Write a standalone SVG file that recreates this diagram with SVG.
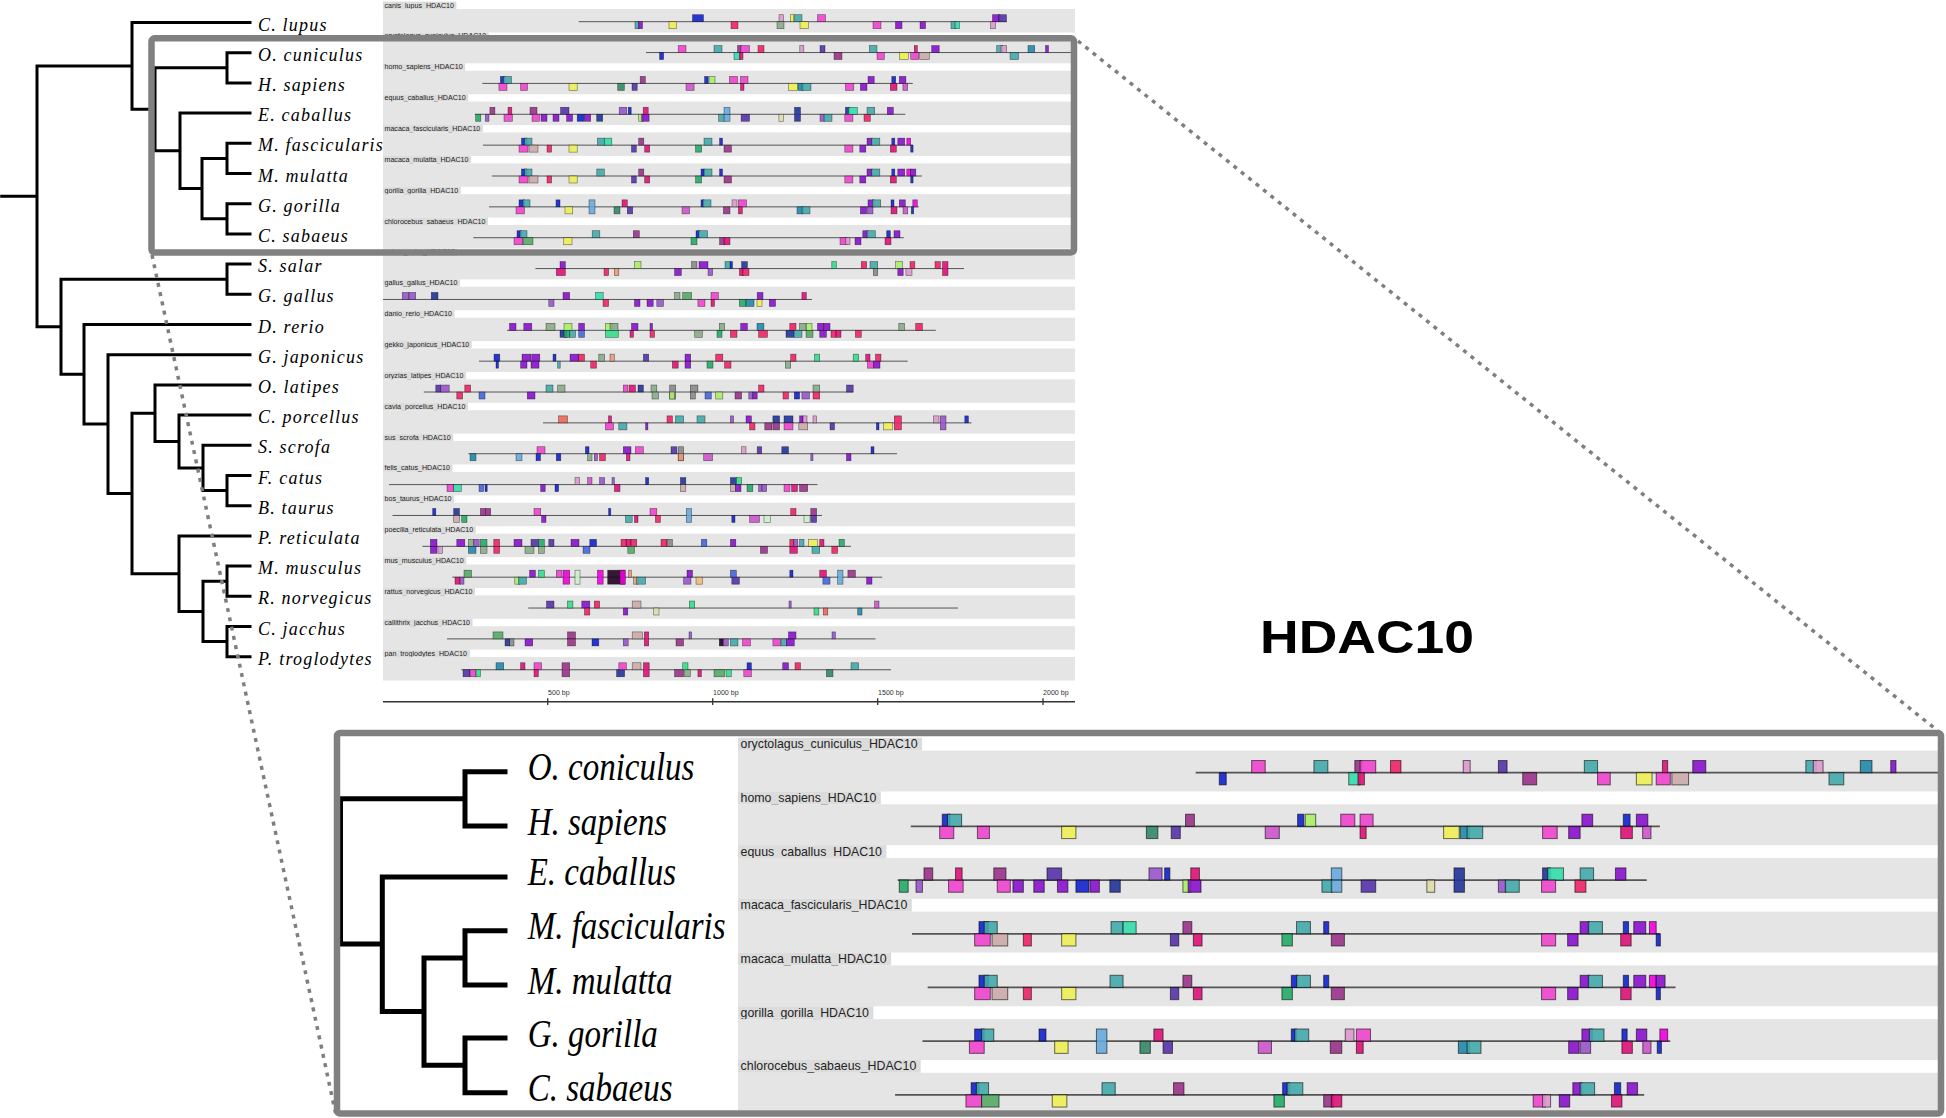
<svg xmlns="http://www.w3.org/2000/svg" xmlns:xlink="http://www.w3.org/1999/xlink" width="1946" height="1118" viewBox="0 0 1946 1118">
<style>
.lb{fill:#dcdcdc}
.bd{fill:#e5e5e5}
.lt{font-family:"Liberation Sans",Arial,sans-serif;font-size:7.1px;fill:#222}
.ln{stroke:#555;stroke-width:1;fill:none}
.tk rect{stroke:#000;stroke-opacity:.55;stroke-width:.6;fill-opacity:.9}
.sp{font-family:"Liberation Serif","Times New Roman",serif;font-style:italic;fill:#000}
.s1{font-size:18px;letter-spacing:1.2px}
.s2{font-size:40px}
.br{fill:none;stroke:#000;stroke-linecap:square}
.box{fill:none;stroke:#808080;stroke-width:6.5}
.dot{fill:none;stroke:#7f7f7f;stroke-width:3.5;stroke-dasharray:4 5.5}
.ax{font-family:"Liberation Sans",Arial,sans-serif;font-size:7.1px;fill:#333}
.pk{fill:#ee44cc}.tl{fill:#44aaaa}.pu{fill:#8811cc}.mg{fill:#dd1177}.ye{fill:#eeee55}.bl{fill:#1122cc}.nv{fill:#223399}.gr{fill:#22aa66}.rs{fill:#ccaaaa}.vi{fill:#9955cc}.mv{fill:#993388}.in{fill:#5533aa}.lb2{fill:#66aadd}.gg{fill:#88aa88}.lg{fill:#aaee66}.mi{fill:#33ddaa}.or{fill:#cc55cc}.lp{fill:#dd99cc}.gy{fill:#888888}.rd{fill:#ee2266}.be{fill:#ddddaa}.sa{fill:#ee9977}.bk{fill:#220022}.dg{fill:#338866}.tb{fill:#2288aa}.bm{fill:#ee00dd}.mb{fill:#4466dd}.g2{fill:#55aa66}.g3{fill:#33dd88}.pg{fill:#cceecc}.lo{fill:#eebb77}.sr{fill:#ee6655}
</style>
<defs>
<clipPath id="cb"><rect x="340" y="736" width="1598" height="374.5"/></clipPath>
</defs>
<rect width="1946" height="1118" fill="#fff"/>

<g id="tracks-top">
<g id="row-canis" transform="translate(0,0)">
<rect class="lb" x="383" y="1.6" width="73.4" height="7.4"/><text class="lt" x="384.5" y="7.6">canis_lupus_HDAC10</text>
<rect class="bd" x="383" y="9" width="692" height="23.5"/>
<g class="tk" transform="translate(0,21.7)"><path class="ln" d="M578.7 0H1007"/>
<rect class="tl" x="635" y="0" width="4" height="7"/><rect class="pu" x="638.5" y="0" width="4" height="7"/>
<rect class="ye" x="669" y="0" width="7.5" height="7"/>
<rect class="bl" x="692.5" y="-7" width="11" height="7"/>
<rect class="rd" x="731" y="0" width="7" height="7"/>
<rect class="lp" x="779" y="-7" width="4.5" height="7"/>
<rect class="gg" x="777" y="0" width="7" height="7"/>
<rect class="ye" x="790.5" y="-7" width="3.5" height="7"/><rect class="tl" x="794" y="-7" width="8" height="7"/>
<rect class="ye" x="800" y="0" width="8.5" height="7"/>
<rect class="pk" x="817.5" y="-7" width="8" height="7"/>
<rect class="pk" x="873" y="0" width="8" height="7"/>
<rect class="pu" x="895.5" y="0" width="6.5" height="7"/>
<rect class="pu" x="920" y="0" width="5.5" height="7"/>
<rect class="tl" x="951" y="0" width="5" height="7"/><rect class="mi" x="955" y="0" width="4.5" height="7"/>
<rect class="lp" x="990.5" y="0" width="5" height="7"/>
<rect class="pu" x="992.5" y="-7" width="7.5" height="7"/><rect class="in" x="998.5" y="-7" width="8" height="7"/>
</g></g>

<g id="r17">
<g id="row-oryctolagus" transform="translate(0,30.86)">
<rect class="lb" x="383" y="1.6" width="105.8" height="7.4"/><text class="lt" x="384.5" y="7.6">oryctolagus_cuniculus_HDAC10</text>
<rect class="bd" x="383" y="9" width="692" height="23.5"/>
<g class="tk" transform="translate(0,21.7)"><path class="ln" d="M646 0H1075"/>
<rect class="bl" x="659.6" y="0" width="4" height="7"/>
<rect class="pk" x="678.2" y="-7" width="7.8" height="7"/>
<rect class="tl" x="714" y="-7" width="8" height="7"/>
<rect class="mv" x="737.5" y="-7" width="4" height="7"/><rect class="pk" x="740.5" y="-7" width="9" height="7"/>
<rect class="mi" x="734" y="0" width="6.5" height="7"/><rect class="mg" x="739.3" y="0" width="3.7" height="7"/>
<rect class="rd" x="758" y="-7" width="6" height="7"/>
<rect class="lp" x="799.8" y="-7" width="4" height="7"/>
<rect class="in" x="820" y="-7" width="5" height="7"/>
<rect class="mv" x="834" y="0" width="8" height="7"/>
<rect class="tl" x="869.4" y="-7" width="7.6" height="7"/>
<rect class="pk" x="877" y="0" width="7.3" height="7"/>
<rect class="ye" x="899.3" y="0" width="9" height="7"/>
<rect class="pk" x="910.7" y="0" width="8.1" height="7"/><rect class="mg" x="914.3" y="-7" width="3" height="7"/>
<rect class="rs" x="919.7" y="0" width="9.6" height="7"/>
<rect class="pu" x="931.7" y="-7" width="7.5" height="7"/>
<rect class="tl" x="996.7" y="-7" width="6" height="7"/><rect class="lp" x="1001" y="-7" width="5.6" height="7"/>
<rect class="tl" x="1010" y="0" width="8.5" height="7"/>
<rect class="tb" x="1028" y="-7" width="6.7" height="7"/>
<rect class="pu" x="1045.5" y="-7" width="3" height="7"/>
</g></g>

<g id="row-homo" transform="translate(0,61.72)">
<rect class="lb" x="383" y="1.6" width="82.1" height="7.4"/><text class="lt" x="384.5" y="7.6">homo_sapiens_HDAC10</text>
<rect class="bd" x="383" y="9" width="692" height="23.5"/>
<g class="tk" transform="translate(0,21.7)"><path class="ln" d="M482.3 0H912.8"/>
<rect class="bl" x="500.4" y="-7" width="4.5" height="7"/><rect class="tl" x="503.4" y="-7" width="8.1" height="7"/>
<rect class="pk" x="498.9" y="0" width="8.1" height="7"/>
<rect class="pk" x="520.6" y="0" width="6.9" height="7"/>
<rect class="ye" x="569" y="0" width="8.2" height="7"/>
<rect class="dg" x="617.7" y="0" width="6.6" height="7"/>
<rect class="in" x="632" y="0" width="5.2" height="7"/>
<rect class="mv" x="640.2" y="-7" width="5.1" height="7"/>
<rect class="or" x="686" y="0" width="8.1" height="7"/>
<rect class="bl" x="704.6" y="-7" width="3.6" height="7"/><rect class="lg" x="709" y="-7" width="6" height="7"/>
<rect class="pk" x="729.4" y="-7" width="8.1" height="7"/>
<rect class="pk" x="740.5" y="-7" width="7.5" height="7"/><rect class="mg" x="740.5" y="0" width="3.5" height="7"/>
<rect class="ye" x="788.5" y="0" width="9" height="7"/>
<rect class="tb" x="798" y="0" width="5.4" height="7"/><rect class="tl" x="802" y="0" width="9" height="7"/>
<rect class="pk" x="845.4" y="0" width="8.4" height="7"/>
<rect class="pu" x="860.4" y="0" width="6.6" height="7"/>
<rect class="pu" x="868" y="-7" width="6.2" height="7"/>
<rect class="bl" x="891.8" y="-7" width="3.9" height="7"/>
<rect class="mg" x="890.3" y="0" width="6.7" height="7"/>
<rect class="pu" x="899.3" y="-7" width="6.6" height="7"/>
<rect class="or" x="902.9" y="0" width="4.8" height="7"/>
</g></g>

<g id="row-equus" transform="translate(0,92.58)">
<rect class="lb" x="383" y="1.6" width="85.3" height="7.4"/><text class="lt" x="384.5" y="7.6">equus_caballus_HDAC10</text>
<rect class="bd" x="383" y="9" width="692" height="23.5"/>
<g class="tk" transform="translate(0,21.7)"><path class="ln" d="M474.8 0H905.3"/>
<rect class="gr" x="475.7" y="0" width="5.1" height="7"/>
<rect class="vi" x="485.3" y="0" width="3.7" height="7"/>
<rect class="mv" x="489.9" y="-7" width="5" height="7"/>
<rect class="pk" x="504" y="0" width="8.4" height="7"/><rect class="mg" x="508" y="-7" width="3.8" height="7"/>
<rect class="mv" x="530" y="-7" width="7" height="7"/>
<rect class="pk" x="532" y="0" width="7.5" height="7"/>
<rect class="pu" x="541" y="0" width="6" height="7"/>
<rect class="pu" x="553" y="0" width="6" height="7"/>
<rect class="in" x="560.6" y="-7" width="8.4" height="7"/>
<rect class="pu" x="566.6" y="0" width="6" height="7"/>
<rect class="bl" x="577.2" y="0" width="7.5" height="7"/>
<rect class="pu" x="585.3" y="0" width="5.4" height="7"/>
<rect class="nv" x="596.7" y="0" width="6" height="7"/>
<rect class="vi" x="619.2" y="-7" width="7.5" height="7"/><rect class="bl" x="628.2" y="-7" width="3" height="7"/>
<rect class="mg" x="643.2" y="-7" width="5" height="7"/>
<rect class="lg" x="638.7" y="0" width="4.5" height="7"/><rect class="pu" x="641.7" y="0" width="7.4" height="7"/>
<rect class="lb2" x="724" y="-7" width="6" height="7"/>
<rect class="tl" x="718.6" y="0" width="6" height="7"/><rect class="lb2" x="724" y="0" width="6" height="7"/>
<rect class="in" x="741.1" y="0" width="8.4" height="7"/>
<rect class="be" x="778.9" y="0" width="4.5" height="7"/>
<rect class="nv" x="794.5" y="-7" width="6" height="14"/>
<rect class="vi" x="820" y="0" width="4.4" height="7"/><rect class="tl" x="824" y="0" width="8" height="7"/>
<rect class="nv" x="845.4" y="-7" width="4.6" height="7"/><rect class="mi" x="848.4" y="-7" width="9" height="7"/>
<rect class="pk" x="844.8" y="0" width="8.1" height="7"/>
<rect class="rd" x="864" y="0" width="6.3" height="7"/>
<rect class="tl" x="867" y="-7" width="7.7" height="7"/>
<rect class="pu" x="887.3" y="-7" width="6" height="7"/>
</g></g>

<g id="row-mfasc" transform="translate(0,123.44)">
<rect class="lb" x="383" y="1.6" width="99.9" height="7.4"/><text class="lt" x="384.5" y="7.6">macaca_fascicularis_HDAC10</text>
<rect class="bd" x="383" y="9" width="692" height="23.5"/>
<g class="tk" transform="translate(0,21.7)"><path class="ln" d="M483 0H912.8"/>
<rect class="bl" x="521.5" y="-7" width="5.5" height="7"/><rect class="tl" x="524.5" y="-7" width="7.5" height="7"/>
<rect class="pk" x="519" y="0" width="9" height="7"/>
<rect class="rs" x="529" y="0" width="9" height="7"/>
<rect class="rd" x="547" y="0" width="4.6" height="7"/>
<rect class="ye" x="569" y="0" width="8.2" height="7"/>
<rect class="tl" x="597.4" y="-7" width="6.9" height="7"/><rect class="mi" x="604.3" y="-7" width="7.5" height="7"/>
<rect class="mv" x="638.7" y="-7" width="5.1" height="7"/>
<rect class="in" x="631.5" y="0" width="4.8" height="7"/>
<rect class="mg" x="644.7" y="0" width="5" height="7"/>
<rect class="gr" x="695.6" y="0" width="6" height="7"/>
<rect class="tl" x="704" y="-7" width="8" height="7"/>
<rect class="bl" x="719.6" y="-7" width="2.9" height="7"/>
<rect class="mv" x="724" y="0" width="7.5" height="7"/>
<rect class="pk" x="844.8" y="0" width="8.1" height="7"/>
<rect class="pu" x="859.8" y="0" width="6" height="7"/>
<rect class="pu" x="867" y="-7" width="5.3" height="7"/><rect class="tl" x="871.7" y="-7" width="8.1" height="7"/>
<rect class="bl" x="891.8" y="-7" width="3" height="7"/>
<rect class="mg" x="890.3" y="0" width="6" height="7"/>
<rect class="pu" x="897.8" y="-7" width="6.9" height="7"/>
<rect class="bm" x="906.8" y="-7" width="3.9" height="7"/>
<rect class="bl" x="910.7" y="0" width="2.4" height="7"/>
</g></g>

<g id="row-mmul" transform="translate(0,154.3)">
<rect class="lb" x="383" y="1.6" width="88" height="7.4"/><text class="lt" x="384.5" y="7.6">macaca_mulatta_HDAC10</text>
<rect class="bd" x="383" y="9" width="692" height="23.5"/>
<g class="tk" transform="translate(0,21.7)"><path class="ln" d="M492 0H921.8"/>
<rect class="bl" x="521.5" y="-7" width="5.5" height="7"/><rect class="tl" x="524.5" y="-7" width="7.5" height="7"/>
<rect class="pk" x="519" y="0" width="9" height="7"/>
<rect class="rs" x="529" y="0" width="9" height="7"/>
<rect class="rd" x="547" y="0" width="4.6" height="7"/>
<rect class="ye" x="569" y="0" width="8.2" height="7"/>
<rect class="tl" x="596.8" y="-7" width="7.5" height="7"/>
<rect class="mv" x="638.7" y="-7" width="5.1" height="7"/>
<rect class="in" x="631.5" y="0" width="4.8" height="7"/>
<rect class="mg" x="644.7" y="0" width="5" height="7"/>
<rect class="gr" x="695.6" y="0" width="6" height="7"/>
<rect class="bl" x="701" y="-7" width="3.6" height="7"/><rect class="tl" x="704" y="-7" width="8" height="7"/>
<rect class="bl" x="719.6" y="-7" width="2.9" height="7"/>
<rect class="mv" x="724" y="0" width="7.5" height="7"/>
<rect class="pk" x="844.8" y="0" width="8.1" height="7"/>
<rect class="pu" x="859.8" y="0" width="6" height="7"/>
<rect class="pu" x="867" y="-7" width="5.3" height="7"/><rect class="tl" x="871.7" y="-7" width="8.1" height="7"/>
<rect class="bl" x="891.8" y="-7" width="3" height="7"/>
<rect class="mg" x="890.3" y="0" width="6" height="7"/>
<rect class="pu" x="897.8" y="-7" width="6.9" height="7"/>
<rect class="bm" x="906.8" y="-7" width="3.9" height="7"/><rect class="pu" x="910.7" y="-7" width="5.1" height="7"/>
<rect class="bl" x="910.7" y="0" width="2.4" height="7"/>
</g></g>

<g id="row-gorilla" transform="translate(0,185.16)">
<rect class="lb" x="383" y="1.6" width="77.8" height="7.4"/><text class="lt" x="384.5" y="7.6">gorilla_gorilla_HDAC10</text>
<rect class="bd" x="383" y="9" width="692" height="23.5"/>
<g class="tk" transform="translate(0,21.7)"><path class="ln" d="M489 0H918.8"/>
<rect class="bl" x="519" y="-7" width="5.5" height="7"/><rect class="tl" x="523" y="-7" width="7" height="7"/>
<rect class="pk" x="516" y="0" width="8.5" height="7"/>
<rect class="bl" x="556" y="-7" width="4" height="7"/>
<rect class="ye" x="565" y="0" width="7.7" height="7"/>
<rect class="lb2" x="589" y="-7" width="6" height="14"/>
<rect class="dg" x="614" y="0" width="6" height="7"/>
<rect class="mg" x="622" y="-7" width="5.3" height="7"/>
<rect class="in" x="627.3" y="0" width="5.4" height="7"/>
<rect class="or" x="682" y="0" width="7.6" height="7"/>
<rect class="bl" x="701" y="-7" width="3" height="7"/><rect class="tl" x="703" y="-7" width="8" height="7"/>
<rect class="mv" x="723.4" y="0" width="6.6" height="7"/>
<rect class="lp" x="732" y="-7" width="5" height="7"/>
<rect class="pk" x="738.4" y="-7" width="8.1" height="7"/>
<rect class="mg" x="738.4" y="0" width="3.9" height="7"/>
<rect class="tb" x="797" y="0" width="6.4" height="7"/><rect class="tl" x="802" y="0" width="8" height="7"/>
<rect class="pu" x="860.4" y="0" width="6" height="7"/><rect class="vi" x="867" y="0" width="6" height="7"/>
<rect class="pu" x="868" y="-7" width="6" height="7"/><rect class="tl" x="872.3" y="-7" width="8.4" height="7"/>
<rect class="bl" x="891" y="-7" width="3" height="7"/>
<rect class="mg" x="891" y="0" width="6" height="7"/>
<rect class="pu" x="899.3" y="-7" width="6" height="7"/>
<rect class="or" x="903" y="0" width="4.7" height="7"/>
<rect class="bm" x="912.8" y="-7" width="4.5" height="7"/>
<rect class="bl" x="911.3" y="0" width="2.4" height="7"/>
</g></g>

<g id="row-chloro" transform="translate(0,216.02)">
<rect class="lb" x="383" y="1.6" width="105" height="7.4"/><text class="lt" x="384.5" y="7.6">chlorocebus_sabaeus_HDAC10</text>
<rect class="bd" x="383" y="9" width="692" height="23.5"/>
<g class="tk" transform="translate(0,21.7)"><path class="ln" d="M473.3 0H903.8"/>
<rect class="bl" x="517" y="-7" width="4.5" height="7"/><rect class="tl" x="520" y="-7" width="7" height="7"/>
<rect class="pk" x="514" y="0" width="9" height="7"/><rect class="g2" x="523" y="0" width="10" height="7"/>
<rect class="ye" x="563.6" y="0" width="8.4" height="7"/>
<rect class="tl" x="592.2" y="-7" width="7.6" height="7"/>
<rect class="mv" x="633.3" y="-7" width="6" height="7"/>
<rect class="gr" x="691" y="0" width="6" height="7"/>
<rect class="bl" x="696" y="-7" width="4" height="7"/><rect class="tl" x="698.6" y="-7" width="9" height="7"/>
<rect class="mv" x="719.6" y="0" width="5.4" height="7"/><rect class="mg" x="724" y="0" width="6" height="7"/>
<rect class="pk" x="840" y="0" width="7" height="7"/><rect class="lp" x="845.4" y="0" width="4.6" height="7"/>
<rect class="pu" x="855" y="0" width="6" height="7"/>
<rect class="pu" x="862.8" y="-7" width="5.2" height="7"/><rect class="tl" x="867" y="-7" width="8.3" height="7"/>
<rect class="bl" x="886.7" y="-7" width="3.6" height="7"/>
<rect class="mg" x="885" y="0" width="6" height="7"/>
<rect class="pu" x="894" y="-7" width="6" height="7"/>
</g></g>
</g>

<g id="row-salmo" transform="translate(0,246.88)">
<rect class="lb" x="383" y="1.6" width="74.2" height="7.4"/><text class="lt" x="384.5" y="7.6">salmo_salar_HDAC10</text>
<rect class="bd" x="383" y="9" width="692" height="23.5"/>
<g class="tk" transform="translate(0,21.7)"><path class="ln" d="M535.4 0H964"/>
<rect class="pu" x="560" y="-7" width="5.3" height="7"/><rect class="mg" x="556.3" y="0" width="9" height="7"/>
<rect class="rd" x="604" y="0" width="4.6" height="7"/>
<rect class="sa" x="614.4" y="0" width="4.4" height="7"/>
<rect class="lg" x="634.5" y="-7" width="6.5" height="7"/>
<rect class="pu" x="674.6" y="0" width="6.7" height="7"/>
<rect class="gy" x="691.6" y="-7" width="5.4" height="7"/>
<rect class="pu" x="699" y="-7" width="9" height="7"/>
<rect class="vi" x="708" y="0" width="4.6" height="7"/>
<rect class="tl" x="725" y="-7" width="5.4" height="7"/><rect class="bl" x="730" y="-7" width="2.5" height="7"/>
<rect class="mg" x="739.4" y="0" width="4.4" height="7"/><rect class="rd" x="742.5" y="0" width="6.5" height="7"/>
<rect class="nv" x="741.6" y="-7" width="5.8" height="7"/>
<rect class="g3" x="831.8" y="-7" width="4.5" height="7"/>
<rect class="rd" x="861.3" y="-7" width="5.3" height="7"/>
<rect class="tl" x="870" y="-7" width="7.7" height="7"/><rect class="gy" x="873.3" y="0" width="4.4" height="7"/>
<rect class="lg" x="895.6" y="-7" width="6.7" height="7"/>
<rect class="pu" x="897.8" y="0" width="5.4" height="7"/><rect class="lp" x="905.9" y="0" width="6.1" height="7"/>
<rect class="rd" x="910" y="-7" width="4.8" height="7"/>
<rect class="rd" x="935" y="-7" width="5.3" height="7"/>
<rect class="mg" x="942.5" y="-7" width="5.5" height="14"/>
</g></g>

<g id="row-gallus" transform="translate(0,277.74)">
<rect class="lb" x="383" y="1.6" width="77" height="7.4"/><text class="lt" x="384.5" y="7.6">gallus_gallus_HDAC10</text>
<rect class="bd" x="383" y="9" width="692" height="23.5"/>
<g class="tk" transform="translate(0,21.7)"><path class="ln" d="M383 0H812"/>
<rect class="vi" x="402.3" y="-7" width="6.7" height="7"/><rect class="vi" x="409" y="-7" width="6.7" height="7"/>
<rect class="nv" x="431.3" y="-7" width="6.7" height="7"/>
<rect class="vi" x="548.8" y="0" width="5.2" height="7"/>
<rect class="pu" x="563" y="-7" width="6.7" height="7"/>
<rect class="mi" x="595.6" y="-7" width="7.6" height="7"/>
<rect class="rd" x="603" y="0" width="5.6" height="7"/>
<rect class="pu" x="634.5" y="0" width="5.5" height="7"/>
<rect class="pu" x="647" y="0" width="6.2" height="7"/>
<rect class="vi" x="656.8" y="0" width="6.7" height="7"/>
<rect class="gg" x="674.6" y="-7" width="5.4" height="7"/><rect class="g2" x="682.7" y="-7" width="8.9" height="7"/>
<rect class="pk" x="697.9" y="0" width="7.1" height="7"/>
<rect class="pk" x="711" y="-7" width="7.4" height="7"/><rect class="mg" x="711" y="0" width="3.5" height="7"/>
<rect class="gr" x="739.4" y="0" width="6.6" height="7"/><rect class="tb" x="746" y="0" width="8" height="7"/>
<rect class="ye" x="757" y="0" width="5" height="7"/>
<rect class="pu" x="757.2" y="-7" width="5.8" height="7"/>
<rect class="pu" x="769.3" y="0" width="6.2" height="7"/>
<rect class="mg" x="801.9" y="-7" width="4.4" height="7"/>
</g></g>

<g id="row-danio" transform="translate(0,308.6)">
<rect class="lb" x="383" y="1.6" width="71.5" height="7.4"/><text class="lt" x="384.5" y="7.6">danio_rerio_HDAC10</text>
<rect class="bd" x="383" y="9" width="692" height="23.5"/>
<g class="tk" transform="translate(0,21.7)"><path class="ln" d="M507 0H935.8"/>
<rect class="pu" x="509.5" y="-7" width="6.5" height="7"/>
<rect class="pu" x="523.8" y="-7" width="8" height="7"/>
<rect class="gg" x="546" y="-7" width="9" height="7"/>
<rect class="nv" x="560" y="0" width="7" height="7"/><rect class="lg" x="564" y="-7" width="8" height="7"/>
<rect class="gr" x="564" y="0" width="6" height="7"/><rect class="tl" x="569.7" y="0" width="5.8" height="7"/>
<rect class="pu" x="578.7" y="-7" width="5.8" height="7"/><rect class="mb" x="578.7" y="0" width="5.8" height="7"/>
<rect class="lg" x="605.4" y="-7" width="7" height="7"/><rect class="gg" x="610" y="-7" width="8" height="7"/><rect class="g3" x="605.4" y="0" width="13" height="7"/>
<rect class="mg" x="630" y="0" width="3.5" height="7"/><rect class="pu" x="631.5" y="-7" width="6.5" height="7"/>
<rect class="pu" x="650" y="-7" width="2.5" height="7"/><rect class="rd" x="650" y="0" width="4.5" height="7"/>
<rect class="gg" x="694.7" y="0" width="7.6" height="7"/>
<rect class="gg" x="719.3" y="-7" width="5.3" height="7"/>
<rect class="gr" x="717" y="0" width="5" height="7"/><rect class="rd" x="730.4" y="0" width="6.6" height="7"/>
<rect class="pu" x="740.7" y="-7" width="6.7" height="7"/>
<rect class="tb" x="757" y="-7" width="6.9" height="7"/>
<rect class="rd" x="758.6" y="0" width="8.9" height="7"/>
<rect class="rd" x="789.8" y="-7" width="6.2" height="7"/><rect class="gg" x="799.6" y="-7" width="6.4" height="7"/><rect class="lg" x="806.3" y="-7" width="5.7" height="7"/>
<rect class="nv" x="786" y="0" width="8.3" height="7"/><rect class="tl" x="794" y="0" width="8" height="7"/><rect class="g2" x="806" y="0" width="7" height="7"/>
<rect class="pu" x="817.5" y="-7" width="6.2" height="7"/><rect class="pu" x="823.8" y="-7" width="6.2" height="7"/>
<rect class="pu" x="819.7" y="0" width="6.7" height="7"/><rect class="rd" x="831" y="0" width="5" height="7"/><rect class="mg" x="836" y="0" width="5" height="7"/>
<rect class="rd" x="855.4" y="0" width="5.9" height="7"/>
<rect class="gg" x="898.8" y="-7" width="5.7" height="7"/>
<rect class="rd" x="915.7" y="-7" width="6.7" height="7"/>
</g></g>

<g id="row-gekko" transform="translate(0,339.46)">
<rect class="lb" x="383" y="1.6" width="88.8" height="7.4"/><text class="lt" x="384.5" y="7.6">gekko_japonicus_HDAC10</text>
<rect class="bd" x="383" y="9" width="692" height="23.5"/>
<g class="tk" transform="translate(0,21.7)"><path class="ln" d="M479 0H907.7"/>
<rect class="bl" x="494" y="-7" width="5.8" height="7"/><rect class="bl" x="496" y="0" width="2.5" height="7"/>
<rect class="pu" x="522" y="-7" width="9" height="7"/><rect class="pu" x="520.6" y="0" width="6.4" height="7"/>
<rect class="pu" x="531.8" y="-7" width="8" height="7"/><rect class="pu" x="531" y="0" width="8" height="7"/>
<rect class="bl" x="553" y="-7" width="3" height="7"/><rect class="tl" x="557.7" y="0" width="2.5" height="7"/>
<rect class="pu" x="570" y="-7" width="8.7" height="7"/>
<rect class="rd" x="578.7" y="-7" width="5.8" height="7"/>
<rect class="rd" x="590.7" y="0" width="5.8" height="7"/>
<rect class="gg" x="598.8" y="-7" width="5.8" height="7"/>
<rect class="sa" x="610" y="-7" width="4.4" height="7"/>
<rect class="in" x="643.4" y="-7" width="5.3" height="7"/>
<rect class="mg" x="672.4" y="0" width="5.8" height="7"/>
<rect class="pu" x="685" y="-7" width="5.7" height="7"/><rect class="pu" x="685" y="0" width="5.7" height="7"/>
<rect class="gr" x="707" y="0" width="6" height="7"/>
<rect class="rd" x="715.7" y="-7" width="7.1" height="7"/>
<rect class="rd" x="724.6" y="0" width="6.4" height="7"/>
<rect class="gg" x="785.4" y="0" width="5.3" height="7"/>
<rect class="rd" x="790.7" y="-7" width="5.3" height="7"/>
<rect class="g3" x="814.4" y="-7" width="5.3" height="7"/>
<rect class="g3" x="853.2" y="-7" width="5.4" height="7"/>
<rect class="mg" x="865.7" y="-7" width="4.3" height="7"/><rect class="rd" x="875.5" y="-7" width="5.5" height="7"/>
<rect class="pk" x="867.5" y="0" width="6" height="7"/><rect class="pu" x="873.5" y="0" width="6.5" height="7"/>
</g></g>

<g id="row-oryzias" transform="translate(0,370.32)">
<rect class="lb" x="383" y="1.6" width="82.9" height="7.4"/><text class="lt" x="384.5" y="7.6">oryzias_latipes_HDAC10</text>
<rect class="bd" x="383" y="9" width="692" height="23.5"/>
<g class="tk" transform="translate(0,21.7)"><path class="ln" d="M423.8 0H853.2"/>
<rect class="in" x="435.8" y="-7" width="5" height="7"/><rect class="vi" x="440.8" y="-7" width="8.4" height="7"/>
<rect class="rd" x="464.8" y="-7" width="5.8" height="7"/>
<rect class="rd" x="456.8" y="0" width="5.8" height="7"/>
<rect class="mb" x="479" y="0" width="6" height="7"/>
<rect class="pu" x="527.3" y="0" width="7.7" height="7"/>
<rect class="tl" x="546" y="-7" width="7" height="7"/><rect class="gg" x="557.7" y="-7" width="7.3" height="7"/>
<rect class="pk" x="623.3" y="-7" width="4.5" height="7"/><rect class="mg" x="629" y="-7" width="6.4" height="7"/>
<rect class="nv" x="638" y="-7" width="5.4" height="7"/>
<rect class="gg" x="651" y="-7" width="5.8" height="7"/><rect class="gg" x="652" y="0" width="6.5" height="7"/>
<rect class="gy" x="669.7" y="-7" width="6" height="14"/><rect class="lg" x="669.7" y="0" width="5" height="7"/>
<rect class="gy" x="690.3" y="-7" width="7.6" height="7"/><rect class="gy" x="690.3" y="0" width="5" height="7"/>
<rect class="mb" x="705" y="0" width="6.3" height="7"/>
<rect class="lg" x="715.7" y="0" width="7.1" height="7"/>
<rect class="mv" x="735" y="0" width="6.6" height="7"/>
<rect class="vi" x="748.8" y="0" width="4" height="7"/><rect class="pu" x="752.8" y="0" width="4.4" height="7"/>
<rect class="rd" x="758.6" y="-7" width="5.4" height="7"/>
<rect class="rd" x="783" y="0" width="5.5" height="7"/>
<rect class="bl" x="794.3" y="0" width="5.3" height="7"/>
<rect class="vi" x="801.9" y="0" width="7.6" height="7"/>
<rect class="gg" x="813" y="-7" width="6.7" height="7"/><rect class="rd" x="813" y="0" width="6.7" height="7"/>
<rect class="in" x="846.5" y="-7" width="6.7" height="7"/>
</g></g>

<g id="row-cavia" transform="translate(0,401.18)">
<rect class="lb" x="383" y="1.6" width="84.9" height="7.4"/><text class="lt" x="384.5" y="7.6">cavia_porcellus_HDAC10</text>
<rect class="bd" x="383" y="9" width="692" height="23.5"/>
<g class="tk" transform="translate(0,21.7)"><path class="ln" d="M543 0H971.5"/>
<rect class="sr" x="558.6" y="-7" width="8.9" height="7"/>
<rect class="mg" x="608.5" y="-7" width="3" height="7"/><rect class="pk" x="605.4" y="0" width="8.1" height="7"/>
<rect class="tl" x="618.8" y="0" width="8.1" height="7"/>
<rect class="pu" x="645.6" y="0" width="2.3" height="7"/>
<rect class="rd" x="667" y="-7" width="5.4" height="7"/>
<rect class="tl" x="675.5" y="-7" width="8.1" height="7"/>
<rect class="tl" x="697" y="-7" width="8" height="7"/>
<rect class="vi" x="730.4" y="-7" width="3.2" height="7"/>
<rect class="pu" x="746" y="-7" width="5.4" height="7"/><rect class="rd" x="749.6" y="0" width="5.4" height="7"/>
<rect class="mv" x="764.8" y="0" width="7.2" height="7"/>
<rect class="nv" x="772.9" y="-7" width="6.7" height="7"/><rect class="mv" x="772.9" y="0" width="6.7" height="7"/>
<rect class="nv" x="784" y="-7" width="9" height="7"/><rect class="pk" x="784" y="0" width="9" height="7"/>
<rect class="pu" x="799.6" y="-7" width="3.5" height="7"/><rect class="lp" x="803" y="-7" width="4" height="7"/>
<rect class="rs" x="798.8" y="0" width="8.9" height="7"/>
<rect class="lp" x="813" y="-7" width="3.6" height="7"/>
<rect class="in" x="830" y="0" width="4.5" height="7"/>
<rect class="bl" x="876.4" y="0" width="2.6" height="7"/>
<rect class="ye" x="883.6" y="0" width="8.9" height="7"/>
<rect class="rd" x="894.3" y="-7" width="7.1" height="14"/>
<rect class="lp" x="933.6" y="-7" width="5.4" height="7"/><rect class="vi" x="940.3" y="-7" width="5.7" height="14"/>
<rect class="bl" x="964.8" y="-7" width="3.6" height="7"/>
</g></g>

<g id="row-sus" transform="translate(0,432.04)">
<rect class="lb" x="383" y="1.6" width="70.3" height="7.4"/><text class="lt" x="384.5" y="7.6">sus_scrofa_HDAC10</text>
<rect class="bd" x="383" y="9" width="692" height="23.5"/>
<g class="tk" transform="translate(0,21.7)"><path class="ln" d="M468.4 0H897"/>
<rect class="tb" x="470" y="0" width="6" height="7"/>
<rect class="lb2" x="516" y="0" width="6" height="7"/>
<rect class="pk" x="537" y="-7" width="8" height="7"/>
<rect class="bl" x="536" y="0" width="4.5" height="7"/>
<rect class="bl" x="556.3" y="0" width="4.5" height="7"/>
<rect class="bl" x="585.4" y="-7" width="3.6" height="7"/>
<rect class="gg" x="587.6" y="0" width="4.4" height="7"/><rect class="vi" x="594.3" y="0" width="3.1" height="7"/>
<rect class="rd" x="599.6" y="0" width="5.8" height="7"/>
<rect class="pu" x="623.3" y="-7" width="7.7" height="7"/>
<rect class="mg" x="626.4" y="0" width="3.6" height="7"/>
<rect class="pk" x="635.4" y="-7" width="8" height="7"/>
<rect class="in" x="671" y="-7" width="5.9" height="7"/>
<rect class="gy" x="678.2" y="-7" width="5.4" height="14"/><rect class="sa" x="678.2" y="0" width="5.4" height="7"/>
<rect class="or" x="703.7" y="0" width="8.9" height="7"/>
<rect class="lp" x="741.6" y="-7" width="4.4" height="7"/>
<rect class="in" x="757.2" y="-7" width="4.5" height="7"/>
<rect class="nv" x="781.8" y="-7" width="6.7" height="7"/>
<rect class="vi" x="810.8" y="0" width="2.2" height="7"/>
<rect class="pu" x="846.5" y="0" width="4.5" height="7"/>
<rect class="bl" x="871" y="-7" width="3" height="7"/>
</g></g>

<g id="row-felis" transform="translate(0,462.9)">
<rect class="lb" x="383" y="1.6" width="69.5" height="7.4"/><text class="lt" x="384.5" y="7.6">felis_catus_HDAC10</text>
<rect class="bd" x="383" y="9" width="692" height="23.5"/>
<g class="tk" transform="translate(0,21.7)"><path class="ln" d="M389 0H817.5"/>
<rect class="pk" x="447" y="0" width="6.7" height="7"/><rect class="mi" x="453.7" y="0" width="7.6" height="7"/>
<rect class="mb" x="479" y="0" width="4.6" height="7"/><rect class="bl" x="485" y="0" width="2.2" height="7"/>
<rect class="pu" x="540.7" y="0" width="4.5" height="7"/>
<rect class="bl" x="555" y="0" width="3.6" height="7"/>
<rect class="lp" x="575" y="-7" width="4.6" height="7"/>
<rect class="or" x="587.6" y="-7" width="4.4" height="7"/>
<rect class="vi" x="599.6" y="-7" width="5" height="7"/>
<rect class="vi" x="612" y="-7" width="2.4" height="7"/>
<rect class="mg" x="614.4" y="0" width="5.6" height="7"/>
<rect class="bl" x="645.6" y="-7" width="3.1" height="7"/>
<rect class="nv" x="680.4" y="-7" width="5.4" height="7"/><rect class="rs" x="680.4" y="0" width="5.4" height="7"/>
<rect class="nv" x="730.4" y="-7" width="5.9" height="7"/><rect class="g3" x="736.3" y="-7" width="5.3" height="7"/>
<rect class="rs" x="730.4" y="0" width="5" height="7"/><rect class="pu" x="735.4" y="0" width="5.6" height="7"/>
<rect class="gr" x="747" y="0" width="5.8" height="7"/>
<rect class="vi" x="758.6" y="0" width="3" height="7"/><rect class="vi" x="762" y="0" width="4.6" height="7"/>
<rect class="pk" x="784" y="0" width="6" height="7"/><rect class="mg" x="791.6" y="0" width="5.8" height="7"/><rect class="mv" x="799.6" y="0" width="8.1" height="7"/>
</g></g>

<g id="row-bos" transform="translate(0,493.76)">
<rect class="lb" x="383" y="1.6" width="71.1" height="7.4"/><text class="lt" x="384.5" y="7.6">bos_taurus_HDAC10</text>
<rect class="bd" x="383" y="9" width="692" height="23.5"/>
<g class="tk" transform="translate(0,21.7)"><path class="ln" d="M392.5 0H822"/>
<rect class="bl" x="432.7" y="-7" width="3.1" height="7"/>
<rect class="nv" x="453.7" y="-7" width="5.8" height="7"/><rect class="rs" x="453.7" y="0" width="5.8" height="7"/>
<rect class="gr" x="461.7" y="0" width="5.3" height="7"/>
<rect class="mv" x="480.4" y="-7" width="5" height="7"/><rect class="mv" x="485.4" y="-7" width="5.3" height="7"/>
<rect class="pk" x="534" y="-7" width="6.7" height="7"/>
<rect class="pu" x="541.6" y="0" width="4.4" height="7"/>
<rect class="bl" x="608.6" y="-7" width="2.2" height="7"/>
<rect class="tl" x="625.5" y="0" width="6.7" height="7"/><rect class="mg" x="634.5" y="0" width="3.5" height="7"/>
<rect class="pk" x="650" y="-7" width="6.8" height="7"/>
<rect class="rd" x="655.4" y="0" width="5" height="7"/>
<rect class="lb2" x="686.3" y="-7" width="5.3" height="14"/>
<rect class="bl" x="731.8" y="0" width="3.2" height="7"/>
<rect class="or" x="749.6" y="0" width="9.9" height="7"/>
<rect class="pg" x="764" y="0" width="6.6" height="7"/>
<rect class="rd" x="790.7" y="-7" width="5.3" height="7"/>
<rect class="pg" x="804" y="0" width="6" height="7"/>
<rect class="mv" x="810.8" y="-7" width="5.8" height="7"/><rect class="in" x="810.8" y="0" width="5.8" height="7"/>
</g></g>

<g id="row-poecilia" transform="translate(0,524.62)">
<rect class="lb" x="383" y="1.6" width="92.8" height="7.4"/><text class="lt" x="384.5" y="7.6">poecilia_reticulata_HDAC10</text>
<rect class="bd" x="383" y="9" width="692" height="23.5"/>
<g class="tk" transform="translate(0,21.7)"><path class="ln" d="M422.4 0H851"/>
<rect class="pu" x="430.4" y="-7" width="6.6" height="7"/><rect class="pu" x="430.4" y="0" width="6.6" height="7"/>
<rect class="lp" x="438" y="0" width="4.5" height="7"/>
<rect class="pu" x="456.8" y="-7" width="8" height="7"/>
<rect class="gg" x="468.4" y="-7" width="5.4" height="7"/><rect class="vi" x="473.8" y="-7" width="5.4" height="7"/><rect class="tb" x="468.4" y="0" width="7.6" height="7"/>
<rect class="gr" x="480.4" y="-7" width="6.6" height="7"/><rect class="gg" x="480.4" y="0" width="6.6" height="7"/>
<rect class="rd" x="493.8" y="-7" width="5.8" height="7"/><rect class="rd" x="493.8" y="0" width="5.8" height="7"/>
<rect class="pu" x="514" y="-7" width="8" height="7"/>
<rect class="gg" x="525" y="0" width="9" height="7"/>
<rect class="in" x="531" y="-7" width="7.5" height="7"/>
<rect class="gr" x="538.5" y="-7" width="5.8" height="7"/><rect class="gg" x="538.5" y="0" width="5.8" height="7"/>
<rect class="in" x="548.8" y="-7" width="5.2" height="7"/>
<rect class="pu" x="571" y="-7" width="8" height="7"/>
<rect class="mb" x="583" y="0" width="7" height="7"/>
<rect class="bl" x="589.8" y="-7" width="6.7" height="7"/>
<rect class="rd" x="621" y="-7" width="6" height="7"/><rect class="mg" x="626" y="-7" width="5" height="7"/><rect class="rd" x="631" y="-7" width="5.7" height="7"/>
<rect class="g2" x="627.8" y="0" width="6.7" height="7"/>
<rect class="rd" x="661" y="-7" width="6" height="7"/><rect class="gy" x="667" y="-7" width="5.4" height="7"/>
<rect class="mb" x="701.4" y="-7" width="5.4" height="7"/>
<rect class="pu" x="730.4" y="-7" width="5.4" height="7"/>
<rect class="mv" x="760.4" y="0" width="7.1" height="7"/>
<rect class="rd" x="789.8" y="-7" width="4" height="7"/><rect class="vi" x="793.8" y="-7" width="4" height="7"/><rect class="mg" x="789.8" y="0" width="7.6" height="7"/>
<rect class="tl" x="799.6" y="-7" width="4.4" height="7"/>
<rect class="ye" x="808.6" y="-7" width="8.9" height="7"/>
<rect class="tl" x="812" y="0" width="7.7" height="7"/>
<rect class="mg" x="819.7" y="-7" width="4.3" height="7"/>
<rect class="rd" x="831.8" y="0" width="5.8" height="7"/>
<rect class="gr" x="839" y="-7" width="5.3" height="7"/>
</g></g>

<g id="row-mus" transform="translate(0,555.48)">
<rect class="lb" x="383" y="1.6" width="83.3" height="7.4"/><text class="lt" x="384.5" y="7.6">mus_musculus_HDAC10</text>
<rect class="bd" x="383" y="9" width="692" height="23.5"/>
<g class="tk" transform="translate(0,21.7)"><path class="ln" d="M452.3 0H882.2"/>
<rect class="mg" x="455" y="0" width="5" height="7"/><rect class="vi" x="460" y="0" width="4" height="7"/>
<rect class="g2" x="464" y="-7" width="7.5" height="7"/>
<rect class="lg" x="514.8" y="0" width="5" height="7"/><rect class="tl" x="518.4" y="0" width="8" height="7"/>
<rect class="pu" x="529.6" y="-7" width="5.8" height="7"/>
<rect class="g3" x="538.5" y="-7" width="5.8" height="7"/>
<rect class="pk" x="556.3" y="-7" width="5.7" height="7"/>
<rect class="bm" x="563" y="-7" width="6.7" height="14"/>
<rect class="pg" x="575" y="-7" width="5" height="14"/>
<rect class="bm" x="597.4" y="-7" width="5.8" height="14"/>
<rect class="bk" x="607.7" y="-7" width="17" height="14"/>
<rect class="bm" x="620" y="-7" width="5.5" height="14"/>
<rect class="sa" x="628.7" y="-7" width="2.6" height="7"/>
<rect class="sa" x="633.6" y="0" width="4.4" height="7"/><rect class="tl" x="636.7" y="0" width="8.9" height="7"/>
<rect class="pu" x="687" y="-7" width="5.5" height="7"/><rect class="vi" x="683.6" y="0" width="7.4" height="7"/>
<rect class="lo" x="696" y="0" width="6.3" height="7"/>
<rect class="mb" x="730.4" y="-7" width="5.9" height="7"/>
<rect class="in" x="731.8" y="0" width="7.6" height="7"/>
<rect class="bl" x="789.8" y="-7" width="3.2" height="7"/>
<rect class="mg" x="819.7" y="-7" width="6.7" height="7"/>
<rect class="mb" x="822.9" y="0" width="7.1" height="7"/>
<rect class="lb2" x="837.6" y="-7" width="5.4" height="14"/>
<rect class="mv" x="847.9" y="-7" width="7.5" height="7"/>
<rect class="pu" x="866.6" y="0" width="5.4" height="7"/>
</g></g>

<g id="row-rattus" transform="translate(0,586.34)">
<rect class="lb" x="383" y="1.6" width="92" height="7.4"/><text class="lt" x="384.5" y="7.6">rattus_norvegicus_HDAC10</text>
<rect class="bd" x="383" y="9" width="692" height="23.5"/>
<g class="tk" transform="translate(0,21.7)"><path class="ln" d="M528.2 0H958"/>
<rect class="in" x="546.5" y="-7" width="7.5" height="7"/>
<rect class="g3" x="567.5" y="-7" width="5.4" height="7"/>
<rect class="pu" x="581.8" y="-7" width="8" height="7"/><rect class="rd" x="584.5" y="0" width="5.3" height="7"/>
<rect class="rd" x="594.3" y="-7" width="5.3" height="7"/>
<rect class="pu" x="623.3" y="0" width="4.5" height="7"/>
<rect class="rs" x="632.2" y="-7" width="8.8" height="7"/>
<rect class="be" x="653.7" y="0" width="5.3" height="7"/>
<rect class="g3" x="689.4" y="-7" width="5.3" height="7"/>
<rect class="vi" x="789" y="-7" width="2.2" height="7"/>
<rect class="g3" x="814" y="0" width="4.8" height="7"/><rect class="sr" x="823.3" y="0" width="4.5" height="7"/>
<rect class="tb" x="857.7" y="0" width="4.3" height="7"/>
<rect class="or" x="874.6" y="-7" width="4.4" height="7"/>
</g></g>

<g id="row-callithrix" transform="translate(0,617.2)">
<rect class="lb" x="383" y="1.6" width="89.6" height="7.4"/><text class="lt" x="384.5" y="7.6">callithrix_jacchus_HDAC10</text>
<rect class="bd" x="383" y="9" width="692" height="23.5"/>
<g class="tk" transform="translate(0,21.7)"><path class="ln" d="M447 0H875.5"/>
<rect class="g2" x="493" y="-7" width="10" height="7"/>
<rect class="nv" x="505" y="0" width="5" height="7"/><rect class="gy" x="509.5" y="0" width="4.5" height="7"/>
<rect class="pu" x="525" y="0" width="7.7" height="7"/>
<rect class="mv" x="567.5" y="-7" width="8" height="7"/><rect class="mv" x="567.5" y="0" width="8" height="7"/>
<rect class="bl" x="592" y="0" width="6.8" height="7"/>
<rect class="vi" x="623.3" y="0" width="4.9" height="7"/>
<rect class="rs" x="632.2" y="-7" width="10.3" height="7"/>
<rect class="mg" x="644.3" y="-7" width="4.4" height="14"/>
<rect class="mv" x="676" y="0" width="7.6" height="7"/>
<rect class="vi" x="689" y="-7" width="2.6" height="7"/>
<rect class="bk" x="719.3" y="0" width="4" height="7"/><rect class="vi" x="723.3" y="0" width="5" height="7"/>
<rect class="tl" x="730.4" y="0" width="7.6" height="7"/>
<rect class="pk" x="742.5" y="0" width="8" height="7"/>
<rect class="pk" x="772.9" y="0" width="7.5" height="7"/><rect class="tl" x="781" y="0" width="5.3" height="7"/><rect class="pu" x="786.3" y="0" width="8" height="7"/>
<rect class="pu" x="788.5" y="-7" width="7.5" height="7"/>
<rect class="vi" x="832" y="-7" width="3.4" height="7"/>
</g></g>

<g id="row-pan" transform="translate(0,648.06)">
<rect class="lb" x="383" y="1.6" width="86.9" height="7.4"/><text class="lt" x="384.5" y="7.6">pan_troglodytes_HDAC10</text>
<rect class="bd" x="383" y="9" width="692" height="23.5"/>
<g class="tk" transform="translate(0,21.7)"><path class="ln" d="M461.3 0H891"/>
<rect class="in" x="463" y="0" width="7" height="7"/><rect class="pk" x="470" y="0" width="6" height="7"/><rect class="g3" x="476" y="0" width="4.4" height="7"/>
<rect class="tb" x="496" y="-7" width="7.7" height="7"/>
<rect class="mg" x="520.6" y="-7" width="4.4" height="7"/>
<rect class="pk" x="534" y="-7" width="7.6" height="7"/><rect class="mg" x="534" y="0" width="4.4" height="7"/>
<rect class="mv" x="562" y="-7" width="7.7" height="14"/>
<rect class="nv" x="616.6" y="0" width="8" height="7"/>
<rect class="pk" x="618.8" y="-7" width="7.6" height="7"/>
<rect class="rs" x="632.2" y="-7" width="8.8" height="7"/>
<rect class="mg" x="643.4" y="-7" width="5.8" height="14"/>
<rect class="mv" x="674.6" y="0" width="9" height="7"/><rect class="gg" x="684.5" y="0" width="5.8" height="7"/>
<rect class="g3" x="682.7" y="-7" width="5.3" height="7"/>
<rect class="mg" x="697.9" y="0" width="3.5" height="7"/>
<rect class="g2" x="714" y="0" width="10.6" height="7"/>
<rect class="g3" x="726" y="0" width="5.3" height="7"/>
<rect class="pk" x="743.8" y="0" width="7.6" height="7"/>
<rect class="bl" x="747" y="-7" width="4.4" height="7"/>
<rect class="pu" x="782.7" y="-7" width="5.8" height="7"/>
<rect class="rd" x="795" y="-7" width="5.5" height="7"/>
<rect class="dg" x="826.4" y="0" width="6.6" height="7"/>
<rect class="tl" x="851" y="-7" width="7.6" height="7"/>
</g></g>

<g id="axis">
<path d="M383 701.7H1075" stroke="#333" stroke-width="1.6" fill="none"/>
<path d="M547.7 698.3V705M712.7 698.3V705M877.7 698.3V705M1043 698.3V705" stroke="#333" stroke-width="1.3" fill="none"/>
<text class="ax" x="548" y="694.5">500 bp</text>
<text class="ax" x="713" y="694.5">1000 bp</text>
<text class="ax" x="878" y="694.5">1500 bp</text>
<text class="ax" x="1043" y="694.5">2000 bp</text>
</g>
</g>

<g id="connectors">
<path class="br" stroke-width="3" d="M1.7 196.3H37M37 65.9V326.75M37 65.9H132M132 22.5V109.3M132 22.5H250M132 109.3H155M155 67.8V150.85M155 67.8H227M227 52.7V82.9M227 52.7H250M227 82.9H250M155 150.85H180M180 113.1V188.6M180 113.1H250M180 188.6H202M202 158.4V218.8M202 158.4H227M227 143.3V173.5M227 143.3H250M227 173.5H250M202 218.8H227M227 203.7V233.9M227 203.7H250M227 233.9H250M37 326.75H61M61 279.2V374.3M61 279.2H227M227 264.1V294.3M227 264.1H250M227 294.3H250M61 374.3H84M84 324.5V424.05M84 324.5H250M84 424.05H108M108 354.7V493.4M108 354.7H250M108 493.4H132M132 413.2V573.65M132 413.2H155M155 384.9V441.5M155 384.9H250M155 441.5H179M179 415.1V467.95M179 415.1H250M179 467.95H203M203 445.3V490.6M203 445.3H250M203 490.6H227M227 475.5V505.7M227 475.5H250M227 505.7H250M132 573.65H179M179 535.9V611.4M179 535.9H250M179 611.4H203M203 581.2V641.6M203 581.2H227M227 566.1V596.3M227 566.1H250M227 596.3H250M203 641.6H227M227 626.5V656.7M227 626.5H250M227 656.7H250"/>
</g>

<g id="labels-top" class="sp s1">
<g id="n-clupus"><text x="258" y="30.5">C. lupus</text></g>
<g id="n-ocun"><text x="258" y="60.7">O. cuniculus</text></g>
<g id="n-hsap"><text x="258" y="90.9">H. sapiens</text></g>
<g id="n-ecab"><text x="258" y="121.1">E. caballus</text></g>
<g id="n-mfas"><text x="258" y="151.3">M. fascicularis</text></g>
<g id="n-mmul"><text x="258" y="181.5">M. mulatta</text></g>
<g id="n-ggor"><text x="258" y="211.7">G. gorilla</text></g>
<g id="n-csab"><text x="258" y="241.9">C. sabaeus</text></g>
<g id="n-ssal"><text x="258" y="272.1">S. salar</text></g>
<g id="n-ggal"><text x="258" y="302.3">G. gallus</text></g>
<g id="n-drer"><text x="258" y="332.5">D. rerio</text></g>
<g id="n-gjap"><text x="258" y="362.7">G. japonicus</text></g>
<g id="n-olat"><text x="258" y="392.9">O. latipes</text></g>
<g id="n-cpor"><text x="258" y="423.1">C. porcellus</text></g>
<g id="n-sscr"><text x="258" y="453.3">S. scrofa</text></g>
<g id="n-fcat"><text x="258" y="483.5">F. catus</text></g>
<g id="n-btau"><text x="258" y="513.7">B. taurus</text></g>
<g id="n-pret"><text x="258" y="543.9">P. reticulata</text></g>
<g id="n-mmus"><text x="258" y="574.1">M. musculus</text></g>
<g id="n-rnor"><text x="258" y="604.3">R. norvegicus</text></g>
<g id="n-cjac"><text x="258" y="634.5">C. jacchus</text></g>
<g id="n-ptro"><text x="258" y="664.7">P. troglodytes</text></g>
</g>

<rect id="top-box" class="box" x="151.5" y="38.3" width="922.5" height="214.2" rx="3"/>

<g id="title"><text x="1260" y="653" font-family="Liberation Sans,Arial,sans-serif" font-size="47" font-weight="bold" textLength="214" lengthAdjust="spacingAndGlyphs">HDAC10</text></g>

<g id="zoom-panel">
<rect x="337" y="733" width="1604" height="380.5" fill="#fff"/>
<g clip-path="url(#cb)"><use xlink:href="#r17" href="#r17" transform="translate(738 797.3) scale(1.74) translate(-383 -66.7)"/></g>
<path class="br" stroke-width="5" d="M340.5 798.8V944M340.5 798.8H465M465 771.7V826M465 771.7H505M465 826H505M340.5 944H382.3M382.3 877V1011.5M382.3 877H505M382.3 1011.5H424M424 957.9V1065.3M424 957.9H465M465 930.7V985M465 930.7H505M465 985H505M424 1065.3H465M465 1038V1092.7M465 1038H505M465 1092.7H505"/>
<g class="sp s2" transform="matrix(0.825 0 0 1 92.35 0)">
<g id="z-ocon"><text x="527.7" y="780.5">O. coniculus</text></g>
<g id="z-hsap"><text x="527.7" y="834.8">H. sapiens</text></g>
<g id="z-ecab"><text x="527.7" y="885.5">E. caballus</text></g>
<g id="z-mfas"><text x="527.7" y="939.5">M. fascicularis</text></g>
<g id="z-mmul"><text x="527.7" y="993.8">M. mulatta</text></g>
<g id="z-ggor"><text x="527.7" y="1046.8">G. gorilla</text></g>
<g id="z-csab"><text x="527.7" y="1101.5">C. sabaeus</text></g>
</g>
<rect class="box" x="337" y="733" width="1604" height="380.5" rx="3"/>
</g>

<g id="zoom-lines">
<path class="dot" d="M152 255L335.5 1113"/>
<path class="dot" d="M1078 41L1938 731"/>
</g>
</svg>
